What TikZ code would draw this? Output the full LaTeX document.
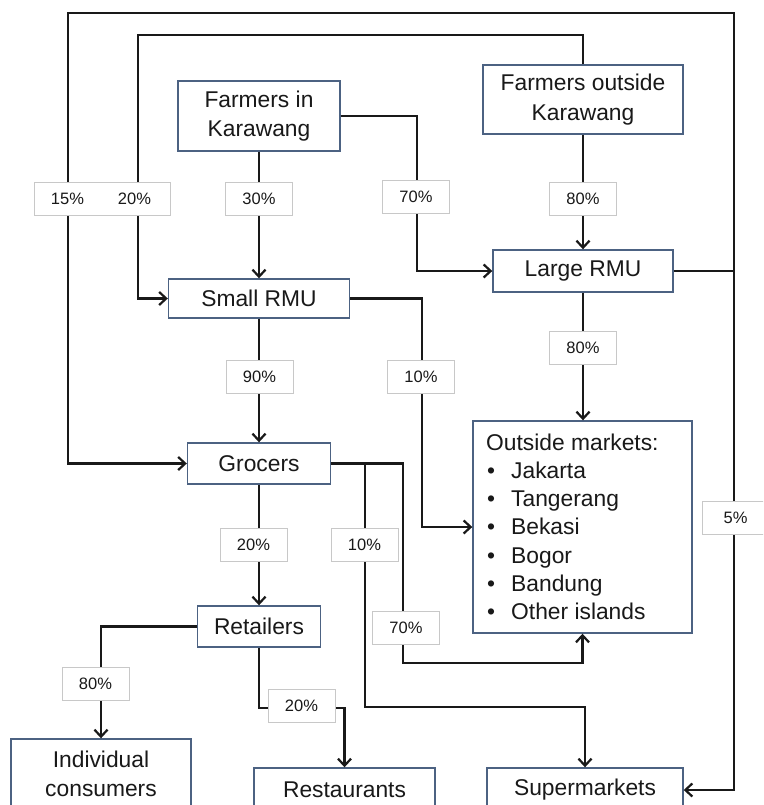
\documentclass[tikz,border=0pt]{standalone}
\usepackage{fontspec}
\setmainfont{Liberation Sans}
\usetikzlibrary{arrows.meta}
\definecolor{boxedge}{RGB}{76,98,130}
\definecolor{ink}{RGB}{25,25,25}
\definecolor{tagedge}{RGB}{200,200,200}
\begin{document}
\begin{tikzpicture}[x=1pt,y=-1pt,
  box/.style={draw=boxedge, line width=1.4pt, fill=white, text=ink,
    font=\fontsize{22.8}{29.5}\selectfont, align=center, inner sep=0pt},
  mtxt/.style={text=ink, font=\fontsize{22.8}{29}\selectfont, inner sep=0pt},
  tag/.style={draw=tagedge, line width=0.9pt, fill=white, text=ink,
    font=\fontsize{16.5}{19}\selectfont, minimum width=67pt,
    minimum height=33pt, inner sep=0pt},
  tagtxt/.style={text=ink, font=\fontsize{16.5}{19}\selectfont, inner sep=0pt},
  flow/.style={draw=ink, line width=2.2pt},
  >={Straight Barb[length=7pt,width=13pt]}
]
\clip (0,0) rectangle (763,805);

% actors
\node[box, minimum width=162pt, minimum height=70pt] (fk) at (259,116) {Farmers in\\Karawang};
\node[box, minimum width=200pt, minimum height=69pt] (fo) at (583,99.5) {Farmers outside\\Karawang};
\node[box, minimum width=181pt, minimum height=39pt] (srmu) at (259,298.5) {Small RMU};
\node[box, minimum width=180pt, minimum height=42pt] (lrmu) at (583,271) {Large RMU};
\node[box, minimum width=143pt, minimum height=41pt] (gr) at (259,463.5) {Grocers};
\node[box, minimum width=219pt, minimum height=212pt] (om) at (582.5,527) {};
\node[box, minimum width=123pt, minimum height=41pt] (ret) at (259,626.5) {Retailers};
\node[box, minimum width=180pt, minimum height=70pt] (ic) at (101,774) {Individual\\consumers};
\node[box, minimum width=181pt, minimum height=44pt] (rs) at (344.5,790) {Restaurants};
\node[box, minimum width=196pt, minimum height=44pt] (sm) at (585,790) {Supermarkets};

% list of outside markets
\node[mtxt, anchor=base west] (omh) at (486,450) {Outside markets:};
\foreach \place [count=\i] in {Jakarta,Tangerang,Bekasi,Bogor,Bandung,Other islands} {
  \node[mtxt, anchor=base west] (omb\i) at (487,{450+28.3*\i}) {\textbullet};
  \node[mtxt, anchor=base west] (omi\i) at (511,{450+28.3*\i}) {\place};
}

% junction points
\coordinate (jr) at (734,271);
\coordinate (gb) at (365,463.5);

% flows
\draw[flow,->] (lrmu.east) -- (jr) |- (68,13) |- (gr.west);
\draw[flow,->] (jr) |- (sm.east);
\draw[flow,->] (fo.north) |- (138,35) |- (srmu.west);
\draw[flow,->] (fk.south) -- (srmu.north);
\draw[flow,->] (fk.east) -| (417,200) |- (lrmu.west);
\draw[flow,->] (fo.south) -- (lrmu.north);
\draw[flow,->] (lrmu.south) -- (lrmu.south |- om.north);
\draw[flow,->] (srmu.east) -| (422,400) |- (om.west);
\draw[flow,->] (srmu.south) -- (gr.north);
\draw[flow,->] (gr.south) -- (ret.north);
\draw[flow,->] (gr.east) -| (403,663) -| (om.south);
\draw[flow,->] (gb) -- (365,707) -| (sm.north);
\draw[flow,->] (ret.west) -| (ic.north);
\draw[flow,->] (ret.south) -- (259,708) -| (rs.north);

% shares
\node[tag, minimum width=136pt] (t1520) at (102,199) {};
\node[tagtxt] (t15) at (67.5,199) {15\%};
\node[tagtxt] (t20a) at (134.5,199) {20\%};
\node[tag] (t30) at (259,199) {30\%};
\node[tag] (t70a) at (416,197) {70\%};
\node[tag] (t80a) at (583,199) {80\%};
\node[tag] (t80b) at (583,348) {80\%};
\node[tag] (t10a) at (421,377) {10\%};
\node[tag] (t90) at (259.5,377) {90\%};
\node[tag] (t20b) at (253.5,545) {20\%};
\node[tag] (t10b) at (364.5,545) {10\%};
\node[tag] (t70b) at (406,628) {70\%};
\node[tag] (t5) at (735.5,518) {5\%};
\node[tag] (t80c) at (95.5,684) {80\%};
\node[tag] (t20c) at (301.5,706) {20\%};
\end{tikzpicture}
\end{document}
